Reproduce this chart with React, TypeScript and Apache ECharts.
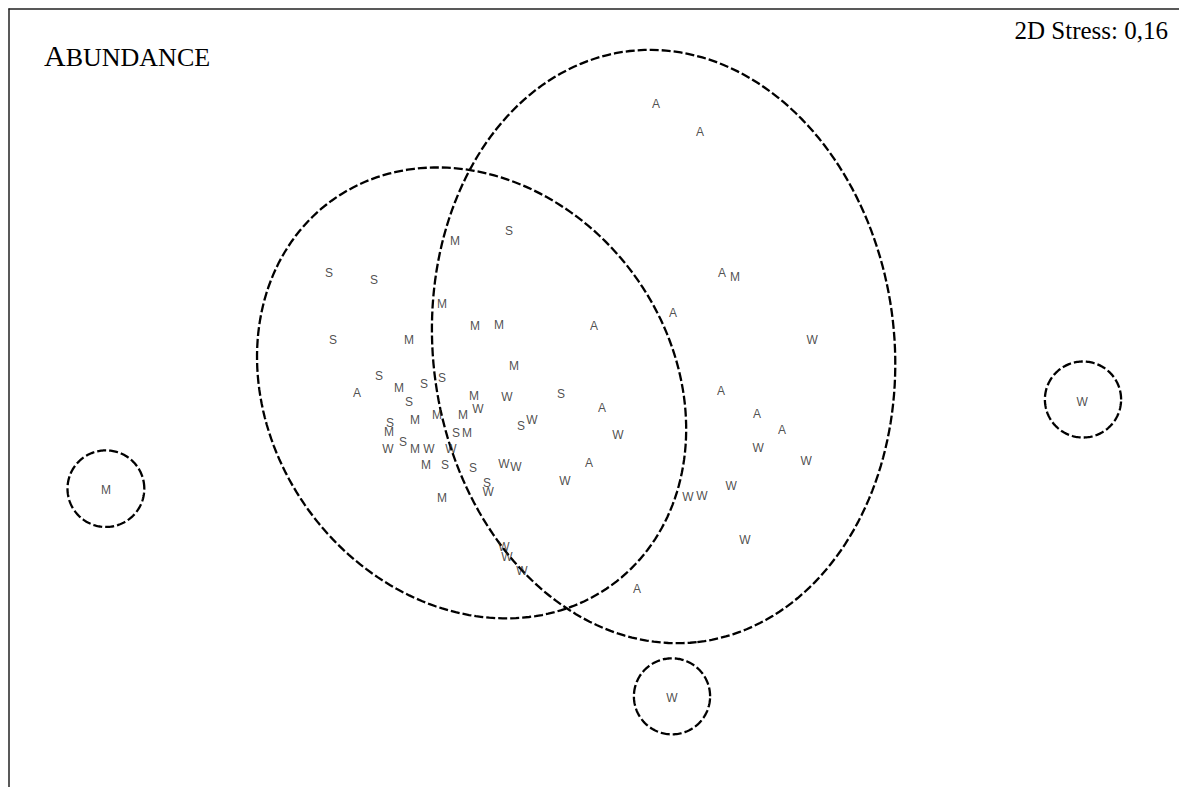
import React, { useEffect, useRef } from "react";
import * as echarts from "echarts";

// NMDS coordinates
const groupA: number[][] = [
  [0.357, 0.887], [0.503, 0.793], [0.577, 0.323], [0.413, 0.19], [0.15, 0.147],
  [-0.64, -0.077], [0.573, -0.073], [0.177, -0.13], [0.693, -0.15], [0.777, -0.203],
  [0.133, -0.313], [0.293, -0.733],
];
const groupS: number[][] = [
  [-0.133, 0.463], [-0.733, 0.323], [-0.583, 0.3], [-0.72, 0.1], [-0.567, -0.02],
  [-0.417, -0.047], [-0.357, -0.027], [-0.467, -0.11], [0.04, -0.083], [-0.53, -0.18],
  [-0.093, -0.19], [-0.487, -0.243], [-0.31, -0.213], [-0.347, -0.32], [-0.253, -0.33],
  [-0.207, -0.38],
];
const groupM: number[][] = [
  [-0.313, 0.43], [-0.357, 0.22], [-0.247, 0.147], [-0.167, 0.15], [-0.467, 0.1],
  [-0.117, 0.013], [-0.5, -0.06], [-0.25, -0.087], [-0.447, -0.167], [-0.373, -0.153],
  [-0.287, -0.153], [-0.533, -0.207], [-0.273, -0.213], [-0.447, -0.267], [-0.41, -0.32],
  [-0.357, -0.43], [0.62, 0.31], [-1.477, -0.403],
];
const groupW: number[][] = [
  [0.877, 0.1], [-0.14, -0.09], [-0.237, -0.133], [-0.057, -0.17], [0.23, -0.217],
  [-0.537, -0.267], [-0.4, -0.267], [-0.327, -0.267], [0.697, -0.263], [0.857, -0.307],
  [-0.15, -0.317], [-0.11, -0.327], [0.053, -0.373], [-0.203, -0.41], [0.607, -0.39],
  [0.463, -0.427], [0.51, -0.423], [0.653, -0.57], [-0.15, -0.593], [-0.14, -0.627],
  [-0.09, -0.673], [1.777, -0.107], [0.41, -1.097],
];
const groupLetters = ["A", "S", "M", "W"];

// cluster outlines: [centerX, centerY, semiAxisA, semiAxisB, angleDeg]
const ellipses: number[][] = [
  [-0.258, -0.083, 0.794, 0.67, -54],
  [0.382, 0.072, 0.994, 0.769, -83.5],
  [-1.477, -0.403, 0.128, 0.128, 0],
  [1.78, -0.105, 0.127, 0.127, 0],
  [0.41, -1.097, 0.127, 0.127, 0],
];

const titleMain = "ABUNDANCE";
const stressText = "2D Stress: 0,16";

const SERIF = "'Liberation Serif', 'Times New Roman', Times, serif";
const SANS = "'Liberation Sans', Arial, Helvetica, sans-serif";

export default function App() {
  const ref = useRef<HTMLDivElement>(null);
  useEffect(() => {
    if (!ref.current) return;
    const chart = echarts.init(ref.current, undefined, { renderer: "svg" });
    const groups = [groupA, groupS, groupM, groupW];
    const scatterSeries = groups.map((g, i) => ({
      type: "scatter",
      name: groupLetters[i],
      data: g,
      symbolSize: 1,
      itemStyle: { color: "rgba(0,0,0,0)" },
      z: 5,
      silent: true,
      label: {
        show: true,
        position: "inside",
        offset: [0, 1.5],
        formatter: groupLetters[i],
        fontSize: 12,
        fontFamily: SANS,
        color: "#222",
      },
    }));
    chart.setOption({
      animation: false,
      backgroundColor: "#ffffff",
      grid: { left: 9, top: 9, width: 1170, height: 780, containLabel: false },
      xAxis: {
        type: "value",
        position: "top",
        min: -1.8,
        max: 2.1,
        axisLine: { show: true, onZero: false, lineStyle: { color: "#222", width: 1.5 } },
        axisTick: { show: false },
        axisLabel: { show: false },
        splitLine: { show: false },
      },
      yAxis: {
        type: "value",
        position: "left",
        min: -1.4,
        max: 1.2,
        axisLine: { show: true, onZero: false, lineStyle: { color: "#222", width: 1.5 } },
        axisTick: { show: false },
        axisLabel: { show: false },
        splitLine: { show: false },
      },
      graphic: [
        {
          type: "text",
          left: 44,
          top: 40,
          style: {
            text: "{a|" + titleMain.charAt(0) + "}{b|" + titleMain.slice(1) + "}",
            rich: {
              a: { fontSize: 30, fontFamily: SERIF, fill: "#000", verticalAlign: "bottom", lineHeight: 30 },
              b: { fontSize: 26, fontFamily: SERIF, fill: "#000", verticalAlign: "bottom", lineHeight: 27 },
            },
          },
        },
        {
          type: "text",
          right: 11,
          top: 18,
          style: { text: stressText, fontSize: 25, fontFamily: SERIF, fill: "#000" },
        },
      ],
      series: [
        {
          type: "custom",
          data: ellipses,
          z: 2,
          silent: true,
          clip: false,
          renderItem: (params: any, api: any) => {
            const cx = api.value(0);
            const cy = api.value(1);
            const a = api.value(2);
            const b = api.value(3);
            const ang = (api.value(4) * Math.PI) / 180;
            const pts: number[][] = [];
            const n = 200;
            for (let i = 0; i <= n; i++) {
              const t = (i / n) * Math.PI * 2;
              const ex = a * Math.cos(t);
              const ey = b * Math.sin(t);
              pts.push(
                api.coord([
                  cx + ex * Math.cos(ang) - ey * Math.sin(ang),
                  cy + ex * Math.sin(ang) + ey * Math.cos(ang),
                ])
              );
            }
            return {
              type: "polyline",
              shape: { points: pts },
              style: { fill: "none", stroke: "#000", lineWidth: 2.3, lineDash: [9, 3] },
            };
          },
        },
        ...scatterSeries,
      ],
    });
    return () => chart.dispose();
  }, []);
  return (
    <div
      ref={ref}
      style={{ position: "absolute", left: 0, top: 0, width: 1179, height: 787, background: "#fff" }}
    />
  );
}
